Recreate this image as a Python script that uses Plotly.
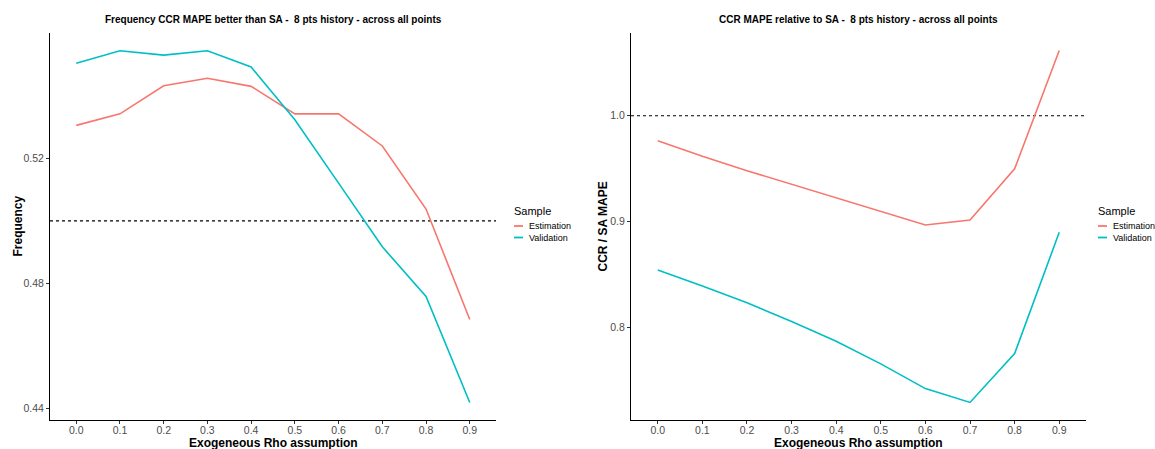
import plotly.graph_objects as go

rho = ["0.0", "0.1", "0.2", "0.3", "0.4", "0.5", "0.6", "0.7", "0.8", "0.9"]

freq_estimation = [0.5306, 0.5343, 0.5433, 0.5457, 0.5431, 0.5343, 0.5343, 0.5240, 0.5038, 0.4684]
freq_validation = [0.5505, 0.5545, 0.5531, 0.5545, 0.5493, 0.5324, 0.5121, 0.4917, 0.4758, 0.4418]

ratio_estimation = [0.9763, 0.9616, 0.9480, 0.9350, 0.9220, 0.9090, 0.8966, 0.9013, 0.9497, 1.0616]
ratio_validation = [0.8541, 0.8390, 0.8230, 0.8053, 0.7866, 0.7653, 0.7419, 0.7288, 0.7750, 0.8897]

freq_ref = 0.5
ratio_ref = 1.0

series_names = ["Estimation", "Validation"]
series_colors = ["#F8766D", "#00BFC4"]
legend_title = "Sample"

FONT = "Liberation Sans, Arial, sans-serif"
W, H = 1155, 449

fig = go.Figure()

for name, color, ys in zip(series_names, series_colors, [freq_estimation, freq_validation]):
    fig.add_trace(go.Scatter(x=rho, y=ys, mode="lines", name=name, showlegend=False,
                             line=dict(color=color, width=1.6), xaxis="x", yaxis="y"))
for name, color, ys in zip(series_names, series_colors, [ratio_estimation, ratio_validation]):
    fig.add_trace(go.Scatter(x=rho, y=ys, mode="lines", name=name, showlegend=False,
                             line=dict(color=color, width=1.6), xaxis="x2", yaxis="y2"))

# reference lines
fig.add_shape(type="line", xref="x domain", yref="y", x0=0, x1=1, y0=freq_ref, y1=freq_ref,
              line=dict(color="black", width=1.1, dash="3px,3px"), layer="below")
fig.add_shape(type="line", xref="x2 domain", yref="y2", x0=0, x1=1, y0=ratio_ref, y1=ratio_ref,
              line=dict(color="black", width=1.1, dash="3px,3px"), layer="below")

y_dom = [(H - 420) / H, (H - 33) / H]
xl = [50 / W, 496 / W]
xr = [631 / W, 1086 / W]

axis_common = dict(showgrid=False, zeroline=False, showline=True, linecolor="black", linewidth=1,
                   ticks="outside", ticklen=3, tickcolor="#333333",
                   tickfont=dict(family=FONT, size=10.5, color="#4d4d4d"))

annotations = [
    dict(text="<b>Frequency CCR MAPE better than SA -  8 pts history - across all points</b>",
         x=(xl[0] + xl[1]) / 2, y=1 - 19 / H, xref="paper", yref="paper",
         showarrow=False, font=dict(size=10, family=FONT), xanchor="center", yanchor="middle"),
    dict(text="<b>CCR MAPE relative to SA -  8 pts history - across all points</b>",
         x=(xr[0] + xr[1]) / 2, y=1 - 19 / H, xref="paper", yref="paper",
         showarrow=False, font=dict(size=10, family=FONT), xanchor="center", yanchor="middle"),
    dict(text="<b>Exogeneous Rho assumption</b>", x=(xl[0] + xl[1]) / 2, y=1 - 443 / H,
         xref="paper", yref="paper", showarrow=False, font=dict(size=12, family=FONT),
         xanchor="center", yanchor="middle"),
    dict(text="<b>Exogeneous Rho assumption</b>", x=(xr[0] + xr[1]) / 2, y=1 - 443 / H,
         xref="paper", yref="paper", showarrow=False, font=dict(size=12, family=FONT),
         xanchor="center", yanchor="middle"),
    dict(text="<b>Frequency</b>", x=17 / W, y=(y_dom[0] + y_dom[1]) / 2, xref="paper", yref="paper",
         showarrow=False, textangle=-90, font=dict(size=12, family=FONT),
         xanchor="center", yanchor="middle"),
    dict(text="<b>CCR / SA MAPE</b>", x=602 / W, y=(y_dom[0] + y_dom[1]) / 2, xref="paper", yref="paper",
         showarrow=False, textangle=-90, font=dict(size=12, family=FONT),
         xanchor="center", yanchor="middle"),
]
shapes = []

# legends (one per panel)
for lx in [512, 1096]:
    annotations.append(dict(text=legend_title, x=lx / W, y=1 - 211 / H, xref="paper", yref="paper",
                            showarrow=False, font=dict(size=11, family=FONT, color="black"),
                            xanchor="left", yanchor="middle"))
    for i, (name, color) in enumerate(zip(series_names, series_colors)):
        yy = 1 - (226 + 11.5 * i) / H
        shapes.append(dict(type="line", xref="paper", yref="paper", x0=(lx + 2) / W, x1=(lx + 11) / W,
                           y0=yy, y1=yy, line=dict(color=color, width=1.8)))
        annotations.append(dict(text=name, x=(lx + 15) / W, y=yy, xref="paper", yref="paper",
                                showarrow=False, font=dict(size=9, family=FONT, color="black"),
                                xanchor="left", yanchor="middle"))

fig.update_layout(
    width=W, height=H,
    margin=dict(l=0, r=0, t=0, b=0),
    paper_bgcolor="white", plot_bgcolor="white",
    font=dict(family=FONT, color="black"),
    showlegend=False,
    xaxis=dict(domain=xl, anchor="y", type="category", range=[-0.6, 9.6],
               ticklabelstandoff=-3, **axis_common),
    yaxis=dict(domain=y_dom, anchor="x", range=[0.4362, 0.5602],
               tickvals=[0.44, 0.48, 0.52], ticktext=["0.44", "0.48", "0.52"], **axis_common),
    xaxis2=dict(domain=xr, anchor="y2", type="category", range=[-0.6, 9.6],
                ticklabelstandoff=-3, **axis_common),
    yaxis2=dict(domain=y_dom, anchor="x2", range=[0.7122, 1.0782],
                tickvals=[0.8, 0.9, 1.0], ticktext=["0.8", "0.9", "1.0"], **axis_common),
    annotations=annotations,
)
for s in shapes:
    fig.add_shape(**s)

fig.write_html("out.html",
               config={"displayModeBar": False},
               post_script="document.body.style.margin='0';document.body.style.overflow='hidden';")
